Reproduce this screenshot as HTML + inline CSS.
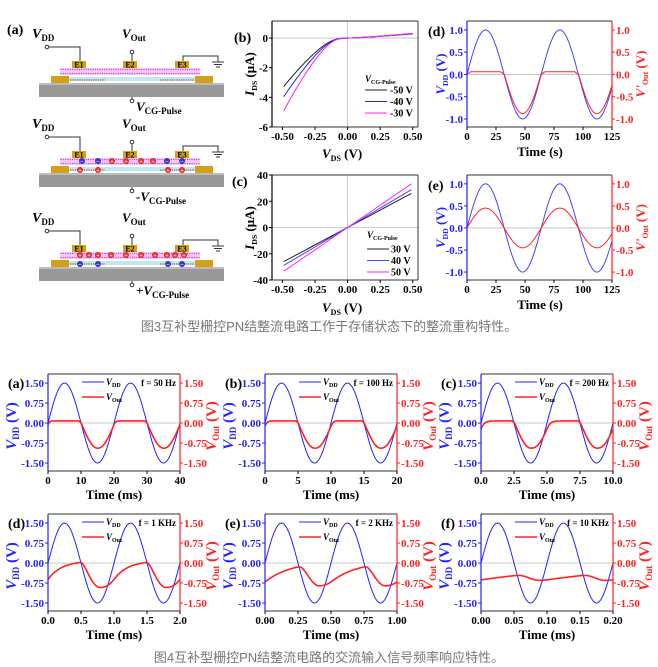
<!DOCTYPE html>
<html><head><meta charset="utf-8"><style>
body{margin:0;background:#fff;width:658px;height:667px;overflow:hidden}
svg{display:block;font-family:"Liberation Serif",serif;font-weight:bold}
.cap{font-family:"Liberation Sans","Noto Sans CJK SC",sans-serif;font-weight:normal;fill:#777;font-size:13px}
</style></head><body>
<svg id="s" width="658" height="667" xmlns="http://www.w3.org/2000/svg"></svg>
<script>
const S=document.getElementById('s');let h='';
function L(x1,y1,x2,y2,c,w){h+=`<line x1="${x1}" y1="${y1}" x2="${x2}" y2="${y2}" stroke="${c}" stroke-width="${w||1}"/>`}
function T(x,y,t,o){o=o||{};h+=`<text x="${x}" y="${y}" font-size="${o.fs||11}" fill="${o.c||'#000'}" text-anchor="${o.a||'start'}" ${o.it?'font-style="italic"':''}>${t}</text>`}
function R(x,y,w,hh,f){h+=`<rect x="${x}" y="${y}" width="${w}" height="${hh}" fill="${f}"/>`}
function C(x,y,r,f,st){h+=`<circle cx="${x}" cy="${y}" r="${r}" fill="${f}" ${st?`stroke="${st}"`:''}/>`}
function plot(o){
 const X=v=>o.x0+(v-o.xmin)/(o.xmax-o.xmin)*(o.x1-o.x0);
 const Y=v=>o.y1-(v-o.ymin)/(o.ymax-o.ymin)*(o.y1-o.y0);
 L(o.x0,Y(0),o.x1,Y(0),'#bbb',0.8);
 if(o.vz)L(X(0),o.y0,X(0),o.y1,'#bbb',0.8);
 for(const s of o.series){let p='';for(const [a,b] of s.pts)p+=(p?'L':'M')+X(a).toFixed(1)+','+Y(b).toFixed(1);
  h+=`<path d="${p}" fill="none" stroke="${s.c}" stroke-width="${s.w||1}"/>`}
 const lc=o.lc||'#000',rc=o.rc||'#000';
 L(o.x0,o.y0,o.x1,o.y0,'#333');L(o.x0,o.y1,o.x1,o.y1,'#333');
 L(o.x0,o.y0,o.x0,o.y1,lc,1.2);L(o.x1,o.y0,o.x1,o.y1,o.rc?rc:'#333',o.rc?1.2:1);
 for(const [v,t] of o.xt){L(X(v),o.y1,X(v),o.y1+3,'#000');T(X(v),o.y1+13,t,{a:'middle'})}
 for(const [v,t] of o.yt){L(o.x0,Y(v),o.x0-3,Y(v),lc);T(o.x0-4,Y(v)+4,t,{a:'end',c:lc})}
 if(o.rt)for(const [v,t] of o.rt){L(o.x1,Y(v),o.x1+3,Y(v),rc);T(o.x1+4,Y(v)+4,t,{c:rc})}
 return {X,Y};
}
function rng(a,b,n,f){const r=[];for(let i=0;i<=n;i++){const x=a+(b-a)*i/n;r.push([x,f(x)])}return r}
function lab(x,y,main,sub,c,fs,unit){h+=`<text x="${x}" y="${y}" fill="${c}" font-size="${fs}" text-anchor="middle" transform="rotate(-90 ${x} ${y})"><tspan font-style="italic">${main}</tspan><tspan font-size="${fs*0.6}" dy="3">${sub}</tspan><tspan dy="-3"> ${unit||'(V)'}</tspan></text>`}
// ---------- schematic (a)
T(7,34,'(a)',{fs:14});
function dev(o,pre,charges){
 const y=o;
 T(32,y+38,'<tspan font-style="italic">V</tspan><tspan font-size="9" dy="3">DD</tspan>',{fs:14});
 T(122,y+38,'<tspan font-style="italic">V</tspan><tspan font-size="9" dy="3">Out</tspan>',{fs:13});
 C(47,y+47,1.8,'#fff','#333');h+=`<polyline points="49,${y+47} 80,${y+47} 80,${y+61}" fill="none" stroke="#333"/>`;
 C(132,y+52,1.8,'#fff','#333');L(132,y+54,132,y+61,'#333');
 h+=`<polyline points="183,${y+61} 183,${y+56} 218,${y+56} 218,${y+62}" fill="none" stroke="#333"/>`;
 L(212,y+62,224,y+62,'#333');L(214,y+64.5,222,y+64.5,'#333');L(216,y+67,220,y+67,'#333');
 R(39,y+83,185,14,'#999');R(39,y+83,185,2,'#bbb');
 R(51,y+76,18,7,'#d4a017');R(195,y+76,18,7,'#d4a017');
 R(69,y+77,126,4,'#bfe9f2');
 R(60,y+68,140,7,'#f6c9f6');
 for(let x=61;x<200;x+=2.3){C(x,y+69.5,0.6,'#c3c');C(x,y+73.5,0.6,'#c3c')}
 h+=`<line x1="70" y1="${y+80}" x2="105" y2="${y+80}" stroke="#844" stroke-dasharray="1.3 1" stroke-width="1"/><line x1="160" y1="${y+80}" x2="194" y2="${y+80}" stroke="#844" stroke-dasharray="1.3 1"/>`;
 for(const [x,t] of [[72,'E1'],[123,'E2'],[175,'E3']]){R(x,y+61,14,7,'#d4a017');T(x+7,y+67.5,t,{fs:8,a:'middle'})}
 C(132,y+101,1.8,'#fff','#333');L(132,y+97,132,y+99,'#333');
 T(136,y+111,pre+'<tspan font-style="italic">V</tspan><tspan font-size="9" dy="3">CG-Pulse</tspan>',{fs:13});
 for(const [x,yy,c] of charges){C(x,y+yy,3,c=='r'?'#e22':'#33c');T(x,y+yy+2.5,c=='r'?'+':'−',{fs:7,a:'middle',c:'#fff'})}
}
dev(0,'',[]);
dev(90,'-',[[82,71,'b'],[98,71,'b'],[112,71,'r'],[126,71,'r'],[141,71,'r'],[153,71,'r'],[167,71,'b'],[182,71,'b'],[80,80,'r'],[98,80,'r'],[168,80,'r'],[182,80,'r']]);
dev(184,'+',[[80,71,'r'],[89,71,'r'],[98,71,'r'],[111,71,'r'],[126,71,'r'],[141,71,'r'],[155,71,'r'],[167,71,'r'],[175,71,'r'],[184,71,'r'],[80,80,'b'],[98,80,'b'],[168,80,'b'],[182,80,'b']]);
// ---------- (b)
{const o={x0:272,x1:418,y0:21,y1:127,xmin:-0.58,xmax:0.54,ymin:-6,ymax:1.15,vz:1,
 xt:[[-0.5,'-0.50'],[-0.25,'-0.25'],[0,'0.00'],[0.25,'0.25'],[0.5,'0.50']],
 yt:[[0,'0'],[-2,'-2'],[-4,'-4'],[-6,'-6']],series:[]};
 const sp=z=>Math.log(1+Math.exp(z*30))/30;
 for(const [a,c] of [[11,'#222'],[13.3,'#22f'],[16.5,'#f2f']])o.series.push({c,pts:rng(-0.49,0.5,120,v=>-a*Math.pow(sp(-v-0.08),1.36)+0.7*Math.pow(Math.max(v,0),1.3)*(a>12?1.1:1))});
 plot(o);T(234,42,'(b)',{fs:14});
 lab(254,74,'I','DS','#000',13,'(μA)');
 T(322,158,'<tspan font-style="italic">V</tspan><tspan font-size="8" dy="3">DS</tspan><tspan dy="-3"> (V)</tspan>',{fs:13});
 T(365,82,'<tspan font-style="italic">V</tspan><tspan font-size="6" dy="2">CG-Pulse</tspan>',{fs:9});
 [['-50 V','#222'],['-40 V','#22f'],['-30 V','#f2f']].forEach((s,i)=>{L(365,90+i*11.5,387,90+i*11.5,s[1]);T(390,93.5+i*11.5,s[0],{fs:10})});}
// ---------- (c)
{const o={x0:272,x1:418,y0:175,y1:280,xmin:-0.58,xmax:0.54,ymin:-40,ymax:40,vz:1,
 xt:[[-0.5,'-0.50'],[-0.25,'-0.25'],[0,'0.00'],[0.25,'0.25'],[0.5,'0.50']],
 yt:[[40,'40'],[20,'20'],[0,'0'],[-20,'-20'],[-40,'-40']],series:[]};
 for(const [a,c] of [[53,'#222'],[59,'#44f'],[68,'#f2f']])o.series.push({c,pts:rng(-0.49,0.49,20,v=>a*v)});
 plot(o);T(232,186,'(c)',{fs:14});
 lab(254,228,'I','DS','#000',13,'(μA)');
 T(322,312,'<tspan font-style="italic">V</tspan><tspan font-size="8" dy="3">DS</tspan><tspan dy="-3"> (V)</tspan>',{fs:13});
 T(367,238,'<tspan font-style="italic">V</tspan><tspan font-size="6" dy="2">CG-Pulse</tspan>',{fs:9});
 [['30 V','#222'],['40 V','#44f'],['50 V','#f2f']].forEach((s,i)=>{L(367,249+i*11.5,389,249+i*11.5,s[1]);T(391,252.5+i*11.5,s[0],{fs:10})});}
// ---------- (d),(e)
function dpanel(y0,y1,fn,L1){
 const o={x0:467,x1:612,y0,y1,xmin:0,xmax:125,ymin:-1.18,ymax:1.2,lc:'#22f',rc:'#f22',
 xt:[[0,'0'],[25,'25'],[50,'50'],[75,'75'],[100,'100'],[125,'125']],
 yt:[[1,'1.0'],[0.5,'0.5'],[0,'0.0'],[-0.5,'-0.5'],[-1,'-1.0']],rt:[[1,'1.0'],[0.5,'0.5'],[0,'0.0'],[-0.5,'-0.5'],[-1,'-1.0']],
 series:[{c:'#44f',pts:rng(0,125,250,t=>Math.sin(2*Math.PI*t/64))},{c:'#f22',pts:rng(0,125,250,t=>fn(Math.sin(2*Math.PI*t/64)))}]};
 plot(o);T(428,y0+15,L1,{fs:14});
 lab(445,(y0+y1)/2,'V','DD','#22f',13);
 h+=`<text x="645" y="${(y0+y1)/2}" fill="#f22" font-size="13" text-anchor="middle" transform="rotate(-90 645 ${(y0+y1)/2})"><tspan font-style="italic">V'</tspan><tspan font-size="8" dy="3">Out</tspan><tspan dy="-3"> (V)</tspan></text>`;
 T(540,y1+29,'Time (s)',{fs:13,a:'middle'});
}
dpanel(21,127,v=>v>0?0.06*Math.min(1,v/0.3):Math.min(0.06,0.9*v+0.02),'(d)');
dpanel(175,280,v=>0.45*v,'(e)');
h+=`<text class="cap" x="329" y="331" text-anchor="middle">图3互补型栅控PN结整流电路工作于存储状态下的整流重构特性。</text>`;
// ---------- bottom panels
function sim(P,xmax){const tc=0.2,td=0.04;const n=4000,dt=P/n;let v=0;
 const tg=t=>{const s=1.5*Math.sin(2*Math.PI*t/P);return s>0?0.08*Math.min(1,s/0.3):0.63*s};
 for(let k=0;k<6*n;k++){const t=k*dt,g=tg(t);const tau=g<v?td:tc;v+=(g-v)*Math.min(1,dt/tau)}
 const pts=[];const N=Math.round(xmax/P*n);const step=Math.max(1,Math.round(N/300));
 for(let k=0;k<=N;k++){const t=k*dt,g=tg(t);const tau=g<v?td:tc;if(k%step==0)pts.push([t,v]);v+=(g-v)*Math.min(1,dt/tau)}
 return pts}
function bp(x0,y0,P,xmax,xt,letter,f){
 const x1=x0+132,y1=y0+97;
 const o={x0,x1,y0,y1,xmin:0,xmax,ymin:-1.8,ymax:1.84,lc:'#22f',rc:'#f22',xt,
 yt:[[1.5,'1.50'],[0.75,'0.75'],[0,'0.00'],[-0.75,'-0.75'],[-1.5,'-1.50']],rt:[[1.5,'1.50'],[0.75,'0.75'],[0,'0.00'],[-0.75,'-0.75'],[-1.5,'-1.50']],
 series:[{c:'#22f',pts:rng(0,xmax,300,t=>1.5*Math.sin(2*Math.PI*t/P))},{c:'#f22',w:1.6,pts:sim(P,xmax)}]};
 plot(o);T(x0-40,y0+14,letter,{fs:14});
 lab(x0-32,y0+52,'V','DD','#22f',15);
 lab(x1+36,y0+52,'V','Out','#f22',15);
 L(x0+34,y0+8,x0+56,y0+8,'#22f');T(x0+58,y0+11,'<tspan font-style="italic">V</tspan><tspan font-size="6" dy="2">DD</tspan>',{fs:9});
 L(x0+34,y0+23,x0+56,y0+23,'#f22',1.4);T(x0+58,y0+26,'<tspan font-style="italic">V</tspan><tspan font-size="6" dy="2">Out</tspan>',{fs:9});
 T(x1-4,y0+12,f,{fs:9,a:'end'});
 T((x0+x1)/2,y1+28,'Time (ms)',{fs:13,a:'middle'});
}
const t40=[[0,'0'],[10,'10'],[20,'20'],[30,'30'],[40,'40']];
bp(48,374,20,40,t40,'(a)','f = 50 Hz');
bp(265,374,10,20,[[0,'0'],[5,'5'],[10,'10'],[15,'15'],[20,'20']],'(b)','f = 100 Hz');
bp(481,374,5,10,[[0,'0.0'],[2.5,'2.5'],[5,'5.0'],[7.5,'7.5'],[10,'10.0']],'(c)','f = 200 Hz');
bp(48,514,1,2,[[0,'0.0'],[0.5,'0.5'],[1,'1.0'],[1.5,'1.5'],[2,'2.0']],'(d)','f = 1 KHz');
bp(265,514,0.5,1,[[0,'0.00'],[0.25,'0.25'],[0.5,'0.50'],[0.75,'0.75'],[1,'1.00']],'(e)','f = 2 KHz');
bp(481,514,0.1,0.2,[[0,'0.00'],[0.05,'0.05'],[0.1,'0.10'],[0.15,'0.15'],[0.2,'0.20']],'(f)','f = 10 KHz');
h+=`<text class="cap" x="329" y="662" text-anchor="middle">图4互补型栅控PN结整流电路的交流输入信号频率响应特性。</text>`;
S.innerHTML=h;
</script>
</body></html>
